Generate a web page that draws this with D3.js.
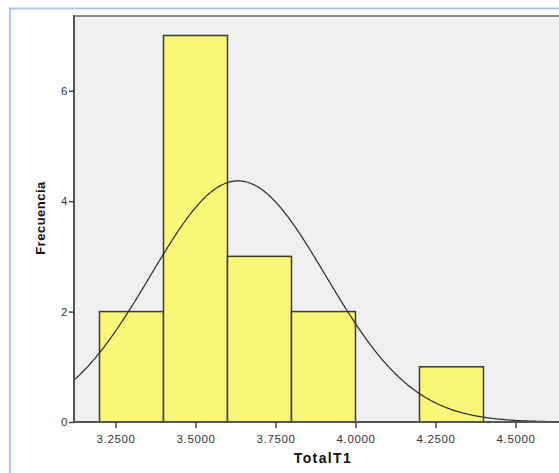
<!DOCTYPE html>
<html>
<head>
<meta charset="utf-8">
<script src="https://cdn.jsdelivr.net/npm/d3@7"></script>
<style>
  html, body { margin: 0; padding: 0; background: #fff; }
  svg { display: block; font-family: "Liberation Sans", Arial, sans-serif; }
</style>
</head>
<body>
<svg id="chart" width="559" height="473"></svg>
<script>
// Histogram bins of TotalT1 (lower edge, upper edge, count)
const binStart = [3.2, 3.4, 3.6, 3.8, 4.0, 4.2];
const binEnd   = [3.4, 3.6, 3.8, 4.0, 4.2, 4.4];
const counts   = [2, 7, 3, 2, 0, 1];
// Normal curve parameters
const mean = 3.633, sd = 0.274, n = 15, binWidth = 0.2;
// Axis ticks
const xTicks = [3.25, 3.5, 3.75, 4.0, 4.25, 4.5];
const yTicks = [0, 2, 4, 6];

const svg = d3.select("#chart");
const plotLeft = 74, plotTop = 15, plotBottom = 422, plotRight = 600;

const x = d3.scaleLinear().domain([3.1203, 4.7641]).range([plotLeft, plotRight]);
const y = d3.scaleLinear().domain([0, 7]).range([plotBottom, 35.5]);

// outer frame
svg.append("rect").attr("x", 10).attr("y", 8.5).attr("width", 600).attr("height", 500)
  .attr("fill", "#fff").attr("stroke", "#a8c8f0").attr("stroke-width", 2);

// plot background
svg.append("rect").attr("x", plotLeft).attr("y", plotTop)
  .attr("width", plotRight - plotLeft).attr("height", plotBottom - plotTop)
  .attr("fill", "#efefef");
svg.append("line").attr("x1", plotLeft).attr("x2", plotRight)
  .attr("y1", plotTop + 1).attr("y2", plotTop + 1)
  .attr("stroke", "#8a8a8a").attr("stroke-width", 2);

// bars
svg.append("g").selectAll("rect")
  .data(counts.map((c, i) => ({c, a: binStart[i], b: binEnd[i]})).filter(d => d.c > 0))
  .join("rect")
  .attr("x", d => x(d.a)).attr("y", d => y(d.c))
  .attr("width", d => x(d.b) - x(d.a)).attr("height", d => y(0) - y(d.c))
  .attr("fill", "#f9f777").attr("stroke", "#3a3a3a").attr("stroke-width", 1.5);

// normal curve
const pts = d3.range(x.domain()[0], x.domain()[1], 0.005).map(v => [v,
  n * binWidth / (sd * Math.sqrt(2 * Math.PI)) * Math.exp(-0.5 * ((v - mean) / sd) ** 2)]);
svg.append("path").datum(pts)
  .attr("d", d3.line().x(d => x(d[0])).y(d => y(d[1])))
  .attr("fill", "none").attr("stroke", "#2a2a2a").attr("stroke-width", 1.2);

// axes
const xAxis = svg.append("g").attr("transform", `translate(0,${plotBottom})`)
  .call(d3.axisBottom(x).tickValues(xTicks).tickFormat(d3.format(".4f")).tickSize(6).tickSizeOuter(0));
const yAxis = svg.append("g").attr("transform", `translate(${plotLeft},0)`)
  .call(d3.axisLeft(y).tickValues(yTicks).tickFormat(d3.format("d")).tickSize(5).tickSizeOuter(0));
[xAxis, yAxis].forEach(g => {
  g.select(".domain").attr("stroke", "#555").attr("stroke-width", 2);
  g.selectAll(".tick line").attr("stroke", "#444").attr("stroke-width", 1.5);
  g.selectAll(".tick text").attr("fill", "#333").attr("font-size", 11.5)
    .attr("letter-spacing", 0.6)
    .attr("font-family", "Liberation Sans, Arial, sans-serif");
});
xAxis.select(".domain").attr("d", `M${plotLeft},0H${plotRight}`);
yAxis.select(".domain").attr("d", `M0,${plotTop}V${plotBottom}`);
xAxis.selectAll(".tick text").attr("dy", "1.0em");
yAxis.selectAll(".tick text").attr("x", -6);

// axis titles
svg.append("text").attr("x", 323).attr("y", 463).attr("text-anchor", "middle")
  .attr("font-size", 14).attr("font-weight", "bold").attr("fill", "#111").attr("letter-spacing", 1.4)
  .text("TotalT1");
svg.append("text").attr("transform", "translate(45,218) rotate(-90)").attr("text-anchor", "middle")
  .attr("font-size", 13).attr("font-weight", "bold").attr("fill", "#111").attr("letter-spacing", 0.5)
  .text("Frecuencia");
</script>
</body>
</html>
